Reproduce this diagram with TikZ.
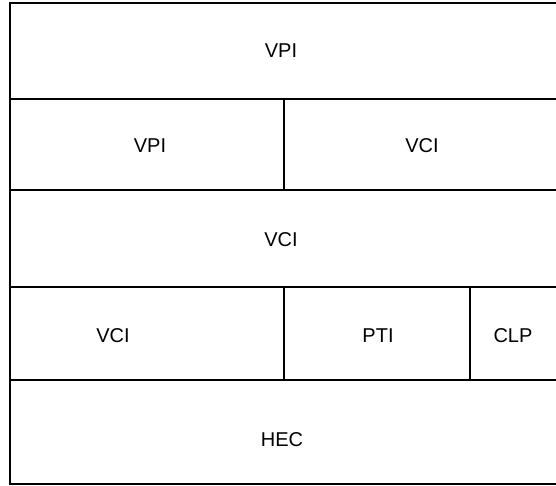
\documentclass[tikz,border=0pt]{standalone}
\usepackage{fontspec}
\setmainfont{Liberation Sans}
\usetikzlibrary{positioning}
\definecolor{cellInk}{HTML}{000000}
\tikzset{
  cellrule/.style={draw=cellInk, line width=2.6pt},
  fieldname/.style={font=\fontsize{20}{24}\selectfont, text=cellInk, inner sep=0pt}
}

\begin{document}
\begin{tikzpicture}[x=1pt, y=-1pt]
    \useasboundingbox (0,0) rectangle (556,485);
    % outer frame and row rules
    \draw[cellrule] (560,3) -- (10,3) -- (10,484) -- (560,484);
    \foreach \rowy in {99,190,287,380}
      \draw[cellrule] (10,\rowy) -- (560,\rowy);
    % column rules
    \draw[cellrule] (284,99) -- (284,190);
    \draw[cellrule] (284,287) -- (284,380);
    \draw[cellrule] (470,287) -- (470,380);
    % field names
    \node[fieldname] (vpiA) at (281,51) {VPI};
    \node[fieldname] (vpiB) at (150,146) {VPI};
    \node[fieldname] (vciA) at (422,146) {VCI};
    \node[fieldname] (vciB) at (281,240) {VCI};
    \node[fieldname] (vciC) at (113,336) {VCI};
    \node[fieldname] (pti) at (378,336) {PTI};
    \node[fieldname] (clp) at (513,336) {CLP};
    \node[fieldname] (hec) at (282,440) {HEC};
  \end{tikzpicture}
\end{document}
